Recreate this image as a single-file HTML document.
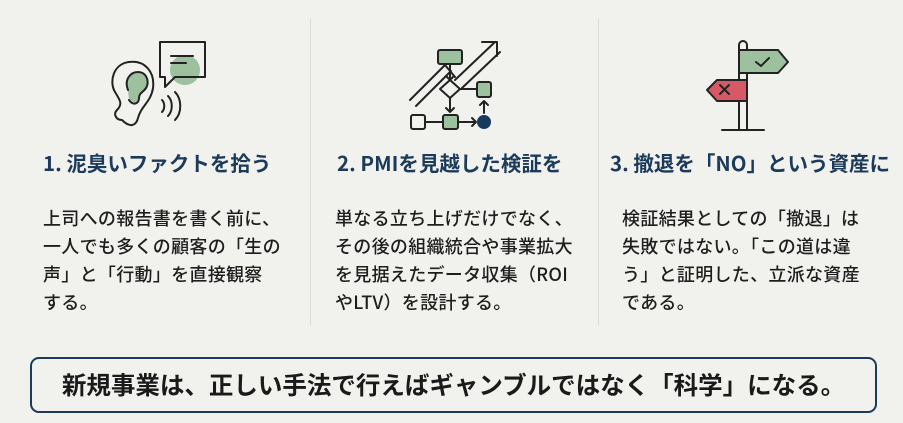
<!DOCTYPE html>
<html><head><meta charset="utf-8"><style>
body{margin:0;width:903px;height:423px;background:#f1f1ee;font-family:"Noto Sans CJK JP","Liberation Sans",sans-serif;position:relative;overflow:hidden;color:#1e1e1e}
.t{position:absolute;top:148px;font-size:20.5px;font-weight:bold;color:#1c3a5a;white-space:nowrap;letter-spacing:0px;line-height:28px}
.b{position:absolute;top:204px;font-size:18px;line-height:28px;white-space:nowrap;font-weight:500;letter-spacing:0.3px}
.d{position:absolute;top:18px;width:1px;height:308px;background:#dcdcd8}
.box{position:absolute;left:30px;top:357px;width:843px;height:52px;border:2.5px solid #1c3a5a;border-radius:9px;font-size:24.5px;font-weight:bold;text-align:center;line-height:52px;white-space:nowrap;color:#1a1a1a}
svg{position:absolute;left:0;top:0}
</style></head><body>
<svg width="903" height="423" fill="none" stroke="#222" stroke-width="2" stroke-linecap="round" stroke-linejoin="round">
<circle cx="185" cy="70" r="15" fill="#9dc09f" stroke="none"/>
<path d="M160 42h45v35h-30l-10 10v-10h-5z" />
<path d="M171 56h22M171 63h15"/>
<path d="M122 120c-6 0-9-6-5-10c6-6 3-10 -2-18c-6-10-2-28 14-30c16-2 26 10 24 26c-2 14-12 18-15 30c-2 8-8 10-16 2"/>
<path d="M128 90c-4-10 2-18 10-18c8 0 11 8 9 14c-2 6-8 6-8 12c0 6-6 8-10 2" fill="#9dc09f"/>
<path d="M162 100c3 3 3 9 0 12M168 96c5 5 5 15 0 20M175 92c7 7 7 21 0 28"/>
<path d="M410 100l35-35l10 12M416 106l35-35M455 80l40-38M462 88l38-36M482 42h15v14"/>
<rect x="438" y="50" width="24" height="14" rx="2" fill="#9dc09f"/>
<path d="M450 64v16M446 76l4 4l4-4"/>
<path d="M450 80l10 9l-10 9l-10-9z" fill="#f1f1ee"/>
<path d="M460 89h18"/>
<rect x="477" y="82" width="14" height="15" rx="2" fill="#9dc09f"/>
<path d="M450 98v14M446 108l4 4l4-4"/>
<rect x="411" y="115" width="14" height="14" rx="2" fill="#f1f1ee"/>
<path d="M425 122h18"/>
<rect x="443" y="115" width="15" height="14" rx="2" fill="#9dc09f"/>
<path d="M458 122h18M472 118l4 4l-4 4M484 113v-12M480 105l4-4l4 4"/>
<circle cx="484" cy="122" r="6" fill="#173a5e" stroke="#173a5e"/>
<path d="M739 130V45a4 4 0 0 1 8 0V130M722 130h42"/>
<path d="M739 50h39l10 12l-10 11h-39z" fill="#9dc09f"/>
<path d="M756 62l5 4l8-8"/>
<path d="M747 80h-30l-10 10l10 11h30z" fill="#d65a66"/>
<path d="M720 85l9 9M729 85l-9 9"/>
</svg>
<div class="d" style="left:310px"></div>
<div class="d" style="left:598px"></div>
<div class="t" style="left:43px">1. 泥臭いファクトを拾う</div>
<div class="t" style="left:337px">2. PMIを見越した検証を</div>
<div class="t" style="left:610px">3. 撤退を「NO」という資産に</div>
<div class="b" style="left:43px">上司への報告書を書く前に、<br>一人でも多くの顧客の「生の<br>声」と「行動」を直接観察<br>する。</div>
<div class="b" style="left:335px">単なる立ち上げだけでなく、<br>その後の組織統合や事業拡大<br>を見据えたデータ収集（ROI<br>やLTV）を設計する。</div>
<div class="b" style="left:622px">検証結果としての「撤退」は<br>失敗ではない。「この道は違<br>う」と証明した、立派な資産<br>である。</div>
<div class="box">新規事業は、正しい手法で行えばギャンブルではなく「科学」になる。</div>
</body></html>
